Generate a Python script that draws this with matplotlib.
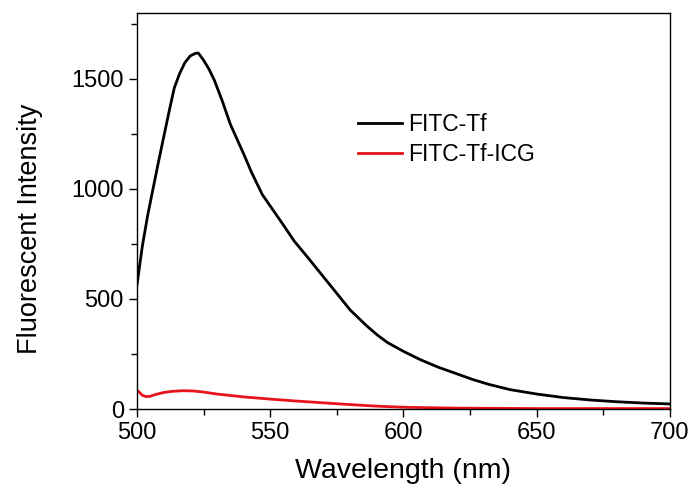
import matplotlib
matplotlib.use("Agg")
import matplotlib.pyplot as plt
from matplotlib.ticker import MultipleLocator

plt.rcParams['font.family'] = ['Liberation Sans', 'DejaVu Sans']

wl_tf = [500, 502, 504, 506, 508, 510, 512, 514, 516, 518, 520, 522, 523, 525, 527,
         529, 532, 535, 540, 543, 547, 551, 555, 559, 564, 570, 575, 580, 586, 590,
         594, 600, 606, 613, 620, 626, 632, 640, 650, 660, 670, 680, 690, 700]
int_tf = [565, 740, 880, 1000, 1120, 1235, 1350, 1460, 1525, 1575, 1605, 1617, 1618, 1585, 1545,
          1495, 1400, 1295, 1160, 1075, 975, 905, 835, 763, 690, 600, 525, 450, 380, 338,
          302, 262, 226, 190, 160, 134, 112, 88, 68, 52, 41, 33, 27, 23]

wl_icg = [500, 501, 502, 503.5, 505, 507, 510, 513, 517, 521, 525, 530, 540, 550, 560,
          570, 580, 590, 600, 620, 650, 700]
int_icg = [85, 75, 62, 56, 58, 66, 75, 80, 83, 82, 77, 68, 55, 45, 36,
           28, 20, 13, 8, 4, 2, 2]

labels = ['FITC-Tf', 'FITC-Tf-ICG']

fig = plt.figure(figsize=(6.93, 4.90), dpi=100)
ax = fig.add_axes([0.1977, 0.1653, 0.7691, 0.8082])
ax.plot(wl_tf, int_tf, color='black', lw=2.0, label=labels[0])
ax.plot(wl_icg, int_icg, color='#e8141b', lw=2.0, label=labels[1])

ax.set_xlim(500, 700)
ax.set_ylim(0, 1800)
ax.xaxis.set_major_locator(MultipleLocator(50))
ax.xaxis.set_minor_locator(MultipleLocator(25))
ax.yaxis.set_major_locator(MultipleLocator(500))
ax.yaxis.set_minor_locator(MultipleLocator(250))
ax.tick_params(which='both', direction='out', top=False, right=False, labelsize=17, width=1)
ax.tick_params(which='major', length=6)
ax.tick_params(which='minor', length=4)
for s in ax.spines.values():
    s.set_linewidth(1)

ax.set_xlabel('Wavelength (nm)', fontsize=20.5, labelpad=10)
ax.set_ylabel('Fluorescent Intensity', fontsize=19.5)
ax.yaxis.set_label_coords(-0.177, 0.4545)

ax.legend(loc='upper left', bbox_to_anchor=(0.4146, 0.748), frameon=False, fontsize=16.5,
          handlelength=1.92, handletextpad=0.26, labelspacing=0.3, borderpad=0, borderaxespad=0)

fig.savefig('out.png', dpi=100)
